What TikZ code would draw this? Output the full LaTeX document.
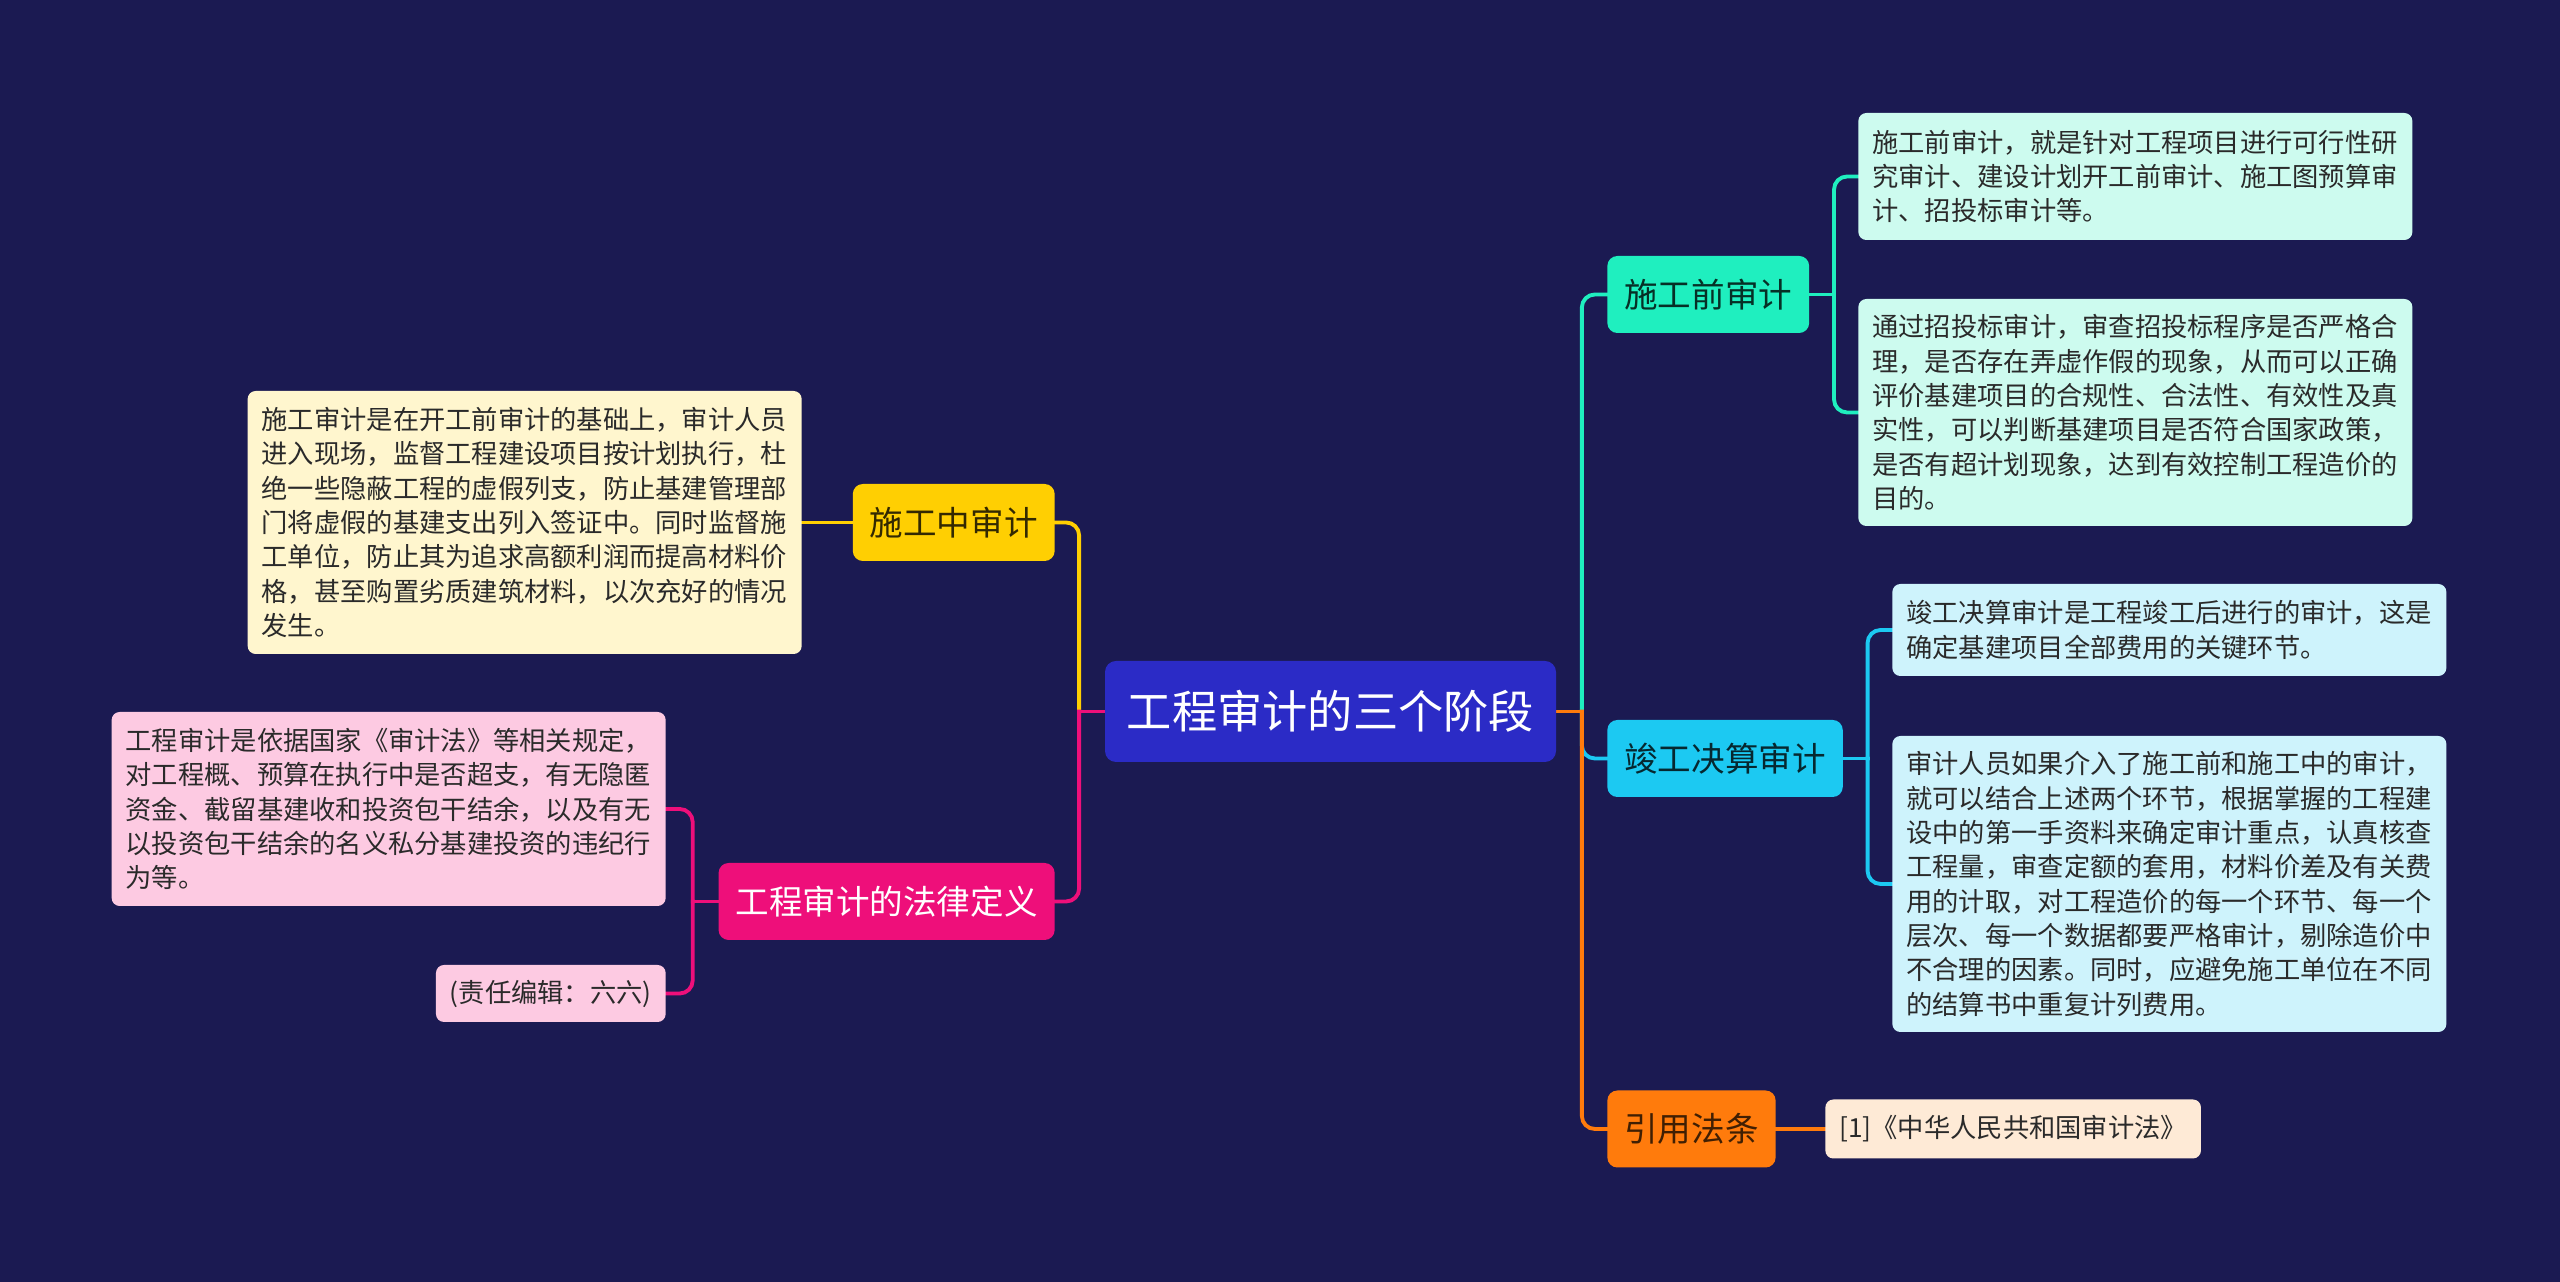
\documentclass[tikz,border=0pt]{standalone}
\usepackage{fontspec}
\setmainfont{Noto Sans CJK SC}
\usetikzlibrary{positioning, calc, backgrounds}

\definecolor{bgnavy}{HTML}{1B1A52}
\definecolor{rootblue}{HTML}{2B2BC6}
\definecolor{preteal}{HTML}{1FEFBF}
\definecolor{fincyan}{HTML}{1CC9F2}
\definecolor{citeorange}{HTML}{FF7B0C}
\definecolor{midyellow}{HTML}{FFCF02}
\definecolor{lawpink}{HTML}{EE0F7A}
\definecolor{preleaf}{HTML}{CDFBEF}
\definecolor{finleaf}{HTML}{CEF3FC}
\definecolor{citeleaf}{HTML}{FEEAD6}
\definecolor{midleaf}{HTML}{FFF6CE}
\definecolor{lawleaf}{HTML}{FDCAE2}
\definecolor{leaftext}{HTML}{2A2A2A}

\tikzset{
  rootbox/.style={fill=rootblue, text=white, rounded corners=0.22cm,
    minimum width=9.02cm, minimum height=2.02cm, font=\fontsize{25.75}{30}\selectfont},
  topicbox/.style={rounded corners=0.2cm, minimum height=1.54cm, inner xsep=0.34cm,
    font=\fontsize{19.1}{23}\selectfont},
  leafbox/.style={rounded corners=0.16cm, inner xsep=0.28cm, align=left, text width=10.52cm,
    text=leaftext, font=\fontsize{14.95}{19.52}\selectfont},
  notebox/.style={rounded corners=0.16cm, inner xsep=0.28cm, text=leaftext,
    font=\fontsize{14.95}{19.52}\selectfont},
  link/.style={line width=2.2pt, draw=#1, line cap=rect},
  elbow/.style={line width=2.2pt, draw=#1, line cap=rect, rounded corners=0.26cm},
}

\begin{document}
\begin{tikzpicture}
  \useasboundingbox (0,0) rectangle (51.2,25.64);
  \begin{pgfonlayer}{background}
    \fill[bgnavy] (0,0) rectangle (51.2,25.64);
  \end{pgfonlayer}

  % Centre
  \node[rootbox] (root) at (26.61,11.41) {工程审计的三个阶段};

  % Branches, right
  \node[topicbox, fill=preteal, text=preteal!20!black, anchor=west] (pre) at (32.14,19.75) {施工前审计};
  \node[topicbox, fill=fincyan, text=fincyan!20!black, anchor=west] (fin) at (32.14,10.47) {竣工决算审计};
  \node[topicbox, fill=citeorange, text=citeorange!25!black, anchor=west] (cite) at (32.14,3.06) {引用法条};

  % Branches, left
  \node[topicbox, fill=midyellow, text=midyellow!20!black, anchor=east] (mid) at (21.10,15.19) {施工中审计};
  \node[topicbox, fill=lawpink, text=white, anchor=east] (law) at (21.10,7.61) {工程审计的法律定义};

  % Leaves of 施工前审计
  \node[leafbox, fill=preleaf, anchor=west, minimum height=2.54cm] (prea) at (37.16,22.11)
    {施工前审计，就是针对工程项目进行可行性研\\
     究审计、建设计划开工前审计、施工图预算审\\
     计、招投标审计等。};
  \node[leafbox, fill=preleaf, anchor=west, minimum height=4.54cm] (preb) at (37.16,17.39)
    {通过招投标审计，审查招投标程序是否严格合\\
     理，是否存在弄虚作假的现象，从而可以正确\\
     评价基建项目的合规性、合法性、有效性及真\\
     实性，可以判断基建项目是否符合国家政策，\\
     是否有超计划现象，达到有效控制工程造价的\\
     目的。};

  % Leaves of 竣工决算审计
  \node[leafbox, fill=finleaf, anchor=west, minimum height=1.84cm] (fina) at (37.84,13.04)
    {竣工决算审计是工程竣工后进行的审计，这是\\
     确定基建项目全部费用的关键环节。};
  \node[leafbox, fill=finleaf, anchor=west, minimum height=5.92cm] (finb) at (37.84,7.96)
    {审计人员如果介入了施工前和施工中的审计，\\
     就可以结合上述两个环节，根据掌握的工程建\\
     设中的第一手资料来确定审计重点，认真核查\\
     工程量，审查定额的套用，材料价差及有关费\\
     用的计取，对工程造价的每一个环节、每一个\\
     层次、每一个数据都要严格审计，剔除造价中\\
     不合理的因素。同时，应避免施工单位在不同\\
     的结算书中重复计列费用。};

  % Leaf of 引用法条
  \node[notebox, fill=citeleaf, anchor=west, minimum height=1.18cm, minimum width=7.48cm] (citea) at (36.50,3.06)
    {[1]《中华人民共和国审计法》};

  % Leaf of 施工中审计
  \node[leafbox, fill=midleaf, anchor=east, minimum height=5.26cm] (mida) at (16.04,15.19)
    {施工审计是在开工前审计的基础上，审计人员\\
     进入现场，监督工程建设项目按计划执行，杜\\
     绝一些隐蔽工程的虚假列支，防止基建管理部\\
     门将虚假的基建支出列入签证中。同时监督施\\
     工单位，防止其为追求高额利润而提高材料价\\
     格，甚至购置劣质建筑材料，以次充好的情况\\
     发生。};

  % Leaves of 工程审计的法律定义
  \node[leafbox, fill=lawleaf, anchor=east, minimum height=3.88cm] (lawa) at (13.32,9.46)
    {工程审计是依据国家《审计法》等相关规定，\\
     对工程概、预算在执行中是否超支，有无隐匿\\
     资金、截留基建收和投资包干结余，以及有无\\
     以投资包干结余的名义私分基建投资的违纪行\\
     为等。};
  \node[notebox, fill=lawleaf, anchor=east, minimum height=1.14cm] (lawb) at (13.32,5.77)
    {(责任编辑：六六)};

  % Junctions
  \coordinate (lj) at ($(root.west)+(-0.51,0)$);
  \coordinate (rj) at ($(root.east)+(0.51,0)$);
  \coordinate (pj) at ($(pre.east)+(0.49,0)$);
  \coordinate (fj) at ($(fin.east)+(0.49,0)$);
  \coordinate (wj) at ($(law.west)+(-0.51,0)$);

  % Connectors
  \begin{pgfonlayer}{background}
    \draw[link=preteal] (root.east) -- (rj);
    \draw[elbow=preteal] (rj) |- (pre.west);
    \draw[link=fincyan] (root.east) -- (rj);
    \draw[elbow=fincyan] (rj) |- (fin.west);
    \draw[link=citeorange] (root.east) -- (rj);
    \draw[elbow=citeorange] (rj) |- (cite.west);

    \draw[link=midyellow] (root.west) -- (lj);
    \draw[elbow=midyellow] (lj) |- (mid.east);
    \draw[link=lawpink] (root.west) -- (lj);
    \draw[elbow=lawpink] (lj) |- (law.east);

    \draw[link=preteal] (pre.east) -- (pj);
    \draw[elbow=preteal] (pj) |- (prea.west);
    \draw[elbow=preteal] (pj) |- (preb.west);

    \draw[link=fincyan] (fin.east) -- (fj);
    \draw[elbow=fincyan] (fj) |- (fina.west);
    \draw[elbow=fincyan] (fj) |- (finb.west);

    \draw[link=citeorange] (cite.east) -- (citea.west);
    \draw[link=midyellow] (mid.west) -- (mida.east);

    \draw[link=lawpink] (law.west) -- (wj);
    \draw[elbow=lawpink] (wj) |- (lawa.east);
    \draw[elbow=lawpink] (wj) |- (lawb.east);
  \end{pgfonlayer}
\end{tikzpicture}
\end{document}
